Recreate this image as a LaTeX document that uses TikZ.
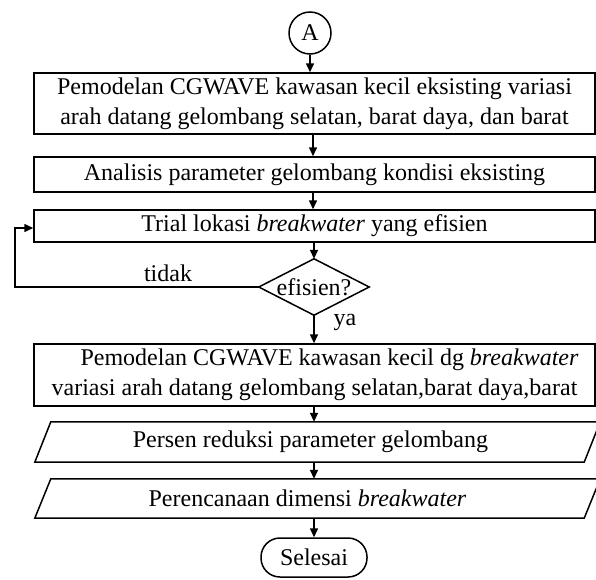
\documentclass[tikz,border=0pt]{standalone}
\usepackage{fontspec}
\setmainfont{Liberation Serif}
\usetikzlibrary{arrows.meta}
\begin{document}
\begin{tikzpicture}[x=1pt,y=-1pt,
  every node/.style={font=\fontsize{24}{30}\selectfont, inner sep=0pt},
  line/.style={line width=1.5pt},
  arr/.style={line width=1.5pt, -{Triangle[length=9pt,width=8pt]}},
  boxnode/.style={draw, line width=1.5pt, rectangle, minimum width=561pt, align=center},
  framenode/.style={rectangle, minimum width=565pt, align=center},
  lbl/.style={font=\fontsize{24}{30}\selectfont}
]
\useasboundingbox (0,0) rectangle (596,579);
\clip (0,0) rectangle (596,579);

\node[draw, line width=1.5pt, circle, minimum size=42pt] (A) at (310,33) {A};

\node[boxnode, minimum height=61pt] (b1) at (314.5,103.5)
  {Pemodelan CGWAVE kawasan kecil eksisting variasi\\arah datang gelombang selatan, barat daya, dan barat};
\node[boxnode, minimum height=35pt] (b2) at (314.5,174.5)
  {Analisis parameter gelombang kondisi eksisting};
\node[boxnode, minimum height=32pt] (b3) at (314.5,226)
  {Trial lokasi \textit{breakwater} yang efisien};

\node[rectangle, minimum width=110pt, minimum height=56pt] (d) at (314,287) {efisien?};
\draw[line] (d.north) -- (d.east) -- (d.south) -- (d.west) -- cycle;

\node[boxnode, minimum height=62pt] (b4) at (314.5,375)
  {\hspace*{30pt}Pemodelan CGWAVE kawasan kecil dg \textit{breakwater}\\variasi arah datang gelombang selatan,barat daya,barat};

\node[framenode, minimum height=40pt] (p1) at (317.5,442) {\hspace*{-14pt}Persen reduksi parameter gelombang};
\draw[line] ([xshift=16pt]p1.north west) -- (p1.north east) -- ([xshift=-16pt]p1.south east) -- (p1.south west) -- cycle;

\node[framenode, minimum height=39pt] (p2) at (317.5,498.5) {\hspace*{-20pt}Perencanaan dimensi \textit{breakwater}};
\draw[line] ([xshift=16pt]p2.north west) -- (p2.north east) -- ([xshift=-16pt]p2.south east) -- (p2.south west) -- cycle;

\node[draw, line width=1.5pt, rectangle, rounded corners=19pt, minimum width=106pt, minimum height=39pt] (e) at (314,557.5) {Selesai};

\coordinate (lc) at (15,287);

\draw[arr] (A.south) -- (A.south |- b1.north);
\draw[arr] (313,134) coordinate (s1) -- (s1 |- b2.north);
\draw[arr] (313,192) coordinate (s2) -- (s2 |- b3.north);
\draw[arr] (d.north |- b3.south) -- (d.north);
\draw[arr] (d.south) -- (d.south |- b4.north);
\draw[arr] (314,406) coordinate (s4) -- (s4 |- p1.north);
\draw[arr] (314,462) coordinate (s5) -- (s5 |- p2.north);
\draw[arr] (314,518) coordinate (s6) -- (e.north);
\draw[arr] (d.west) -- (lc) |- ([yshift=-2pt]b3.west);

\node[lbl] (tidak) at (168,273) {tidak};
\node[lbl] (ya) at (345,322) {ya};
\end{tikzpicture}
\end{document}
